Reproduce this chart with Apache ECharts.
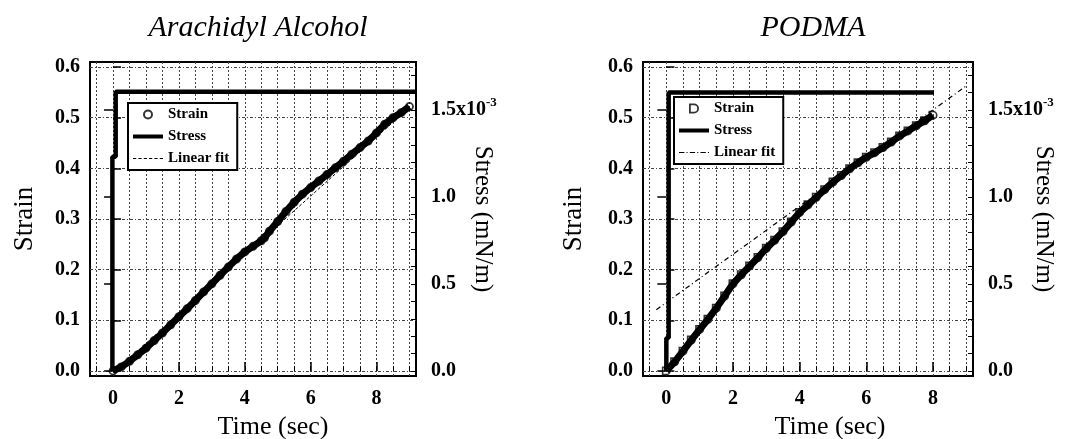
<!DOCTYPE html>
<html>
<head>
<meta charset="utf-8">
<script src="https://cdn.jsdelivr.net/npm/echarts@6/dist/echarts.min.js"></script>
<style>
html,body{margin:0;padding:0;background:#fff;}
#c{width:1069px;height:439px;}
</style>
</head>
<body>
<div id="c"></div>
<script>
// ---------- data ----------
const titleA = 'Arachidyl Alcohol';
const titleB = 'PODMA';

// Arachidyl Alcohol: strain vs time
const timeA = [0,0.25,0.5,0.75,1.0,1.25,1.5,1.75,2.0,2.25,2.5,2.75,3.0,3.25,3.5,3.75,4.0,4.25,4.5,4.6,4.75,5.0,5.25,5.5,5.75,6.0,6.25,6.5,6.75,7.0,7.25,7.5,7.75,8.0,8.25,8.5,8.75,9.0];
const strainA = [0,0.008,0.019,0.032,0.045,0.06,0.075,0.091,0.107,0.123,0.139,0.156,0.172,0.189,0.205,0.221,0.235,0.246,0.257,0.263,0.276,0.295,0.315,0.333,0.349,0.362,0.375,0.388,0.401,0.414,0.428,0.441,0.454,0.47,0.487,0.5,0.51,0.522];
// Arachidyl Alcohol: applied stress (mN/m)
const stressTimeA = [-0.02,-0.02,0.08,0.08,9.2];
const stressA = [0,1.232e-3,1.232e-3,1.605e-3,1.605e-3];
// Arachidyl Alcohol: linear fit
const fitTimeA = [0,9.0];
const fitA = [-0.004,0.52];

// PODMA: strain vs time
const timeB = [0,0.25,0.5,0.75,1.0,1.25,1.5,1.75,2.0,2.25,2.5,2.75,3.0,3.25,3.5,3.75,4.0,4.25,4.5,4.75,5.0,5.25,5.5,5.75,6.0,6.25,6.5,6.75,7.0,7.25,7.5,7.75,8.0];
const strainB = [0,0.018,0.039,0.061,0.082,0.102,0.124,0.148,0.172,0.19,0.207,0.224,0.242,0.258,0.275,0.294,0.313,0.328,0.343,0.358,0.373,0.386,0.399,0.411,0.422,0.431,0.441,0.452,0.464,0.474,0.484,0.494,0.505];
// PODMA: applied stress (mN/m)
const stressTimeB = [0,0,0.07,0.07,8.03];
const stressB = [0,0.19e-3,0.19e-3,1.60e-3,1.60e-3];
// PODMA: linear fit
const fitTimeB = [-0.3,9.0];
const fitB = [0.121,0.563];

// tick labels / tick positions
const xLabelTicks = [0,2,4,6,8];
const xGridTicks = [-0.5,0,0.5,1,1.5,2,2.5,3,3.5,4,4.5,5,5.5,6,6.5,7,7.5,8,8.5,9];
const strainTicks = [0,0.1,0.2,0.3,0.4,0.5,0.6];
const stressLabelTicks = [0,0.5e-3,1.0e-3,1.5e-3];
const stressMinorTicks = [0,0.1e-3,0.2e-3,0.3e-3,0.4e-3,0.5e-3,0.6e-3,0.7e-3,0.8e-3,0.9e-3,1.0e-3,1.1e-3,1.2e-3,1.3e-3,1.4e-3,1.5e-3,1.6e-3,1.7e-3];

// ---------- chart ----------
const FONT = 'Liberation Serif';
const xRange = [-0.7, 9.2];
const strainRange = [-0.01, 0.61];
const stressRange = [-0.0287e-3, 1.776e-3];

function zip(a, b){ return a.map((v,i)=>[v,b[i]]); }

function xAxes(gi, namePad){
  return [
    { gridIndex: gi, type:'value', position:'bottom', min:xRange[0], max:xRange[1],
      axisLine:{show:false}, splitLine:{show:false},
      axisTick:{show:true, inside:true, length:9, customValues:xLabelTicks, lineStyle:{color:'#000', width:1.5}},
      axisLabel:{customValues:xLabelTicks, margin:13, color:'#000', fontFamily:FONT, fontSize:20, fontWeight:'bold', formatter:v=>String(Math.round(v))},
      name:'Time (sec)', nameLocation:'middle', nameGap:38, nameMoveOverlap:false,
      nameTextStyle:{fontFamily:FONT, fontSize:26, color:'#000', padding:[0,0,0,namePad]} },
    { gridIndex: gi, type:'value', position:'bottom', min:xRange[0], max:xRange[1],
      axisLine:{show:false}, axisLabel:{show:false},
      axisTick:{show:true, inside:true, length:5, customValues:xGridTicks, lineStyle:{color:'#000', width:1}},
      splitLine:{show:true, lineStyle:{color:'#444', width:1, type:[2,2]}} }
  ];
}
function yAxes(gi, strainGap, stressGap){
  return [
    { gridIndex: gi, type:'value', position:'left', min:strainRange[0], max:strainRange[1],
      axisLine:{show:false},
      axisTick:{show:true, inside:true, length:8, customValues:strainTicks, lineStyle:{color:'#000', width:1.5}},
      axisLabel:{customValues:strainTicks, margin:10, color:'#000', fontFamily:FONT, fontSize:20, fontWeight:'bold', formatter:v=>v.toFixed(1)},
      splitLine:{show:true, lineStyle:{color:'#444', width:1, type:[3,2,1,2]}},
      name:'Strain', nameLocation:'middle', nameGap:strainGap, nameMoveOverlap:false,
      nameTextStyle:{fontFamily:FONT, fontSize:27, color:'#000'} },
    { gridIndex: gi, type:'value', position:'right', min:stressRange[0], max:stressRange[1],
      axisLine:{show:false}, splitLine:{show:false},
      axisTick:{show:true, inside:true, length:9, customValues:stressLabelTicks, lineStyle:{color:'#000', width:1.5}},
      axisLabel:{customValues:stressLabelTicks, margin:15, color:'#000', fontFamily:FONT, fontSize:20, fontWeight:'bold',
        formatter:v=>{ const s=(v*1000).toFixed(1); return s==='1.5' ? '{b|1.5x10}{sup|-3}' : s; },
        rich:{ b:{fontFamily:FONT, fontSize:20, fontWeight:'bold', color:'#000'},
               sup:{fontFamily:FONT, fontSize:13, fontWeight:'bold', color:'#000', padding:[0,0,14,0]} } },
      name:'Stress (mN/m)', nameLocation:'middle', nameGap:stressGap, nameRotate:-90, nameMoveOverlap:false,
      nameTextStyle:{fontFamily:FONT, fontSize:25, color:'#000'} },
    { gridIndex: gi, type:'value', position:'right', min:stressRange[0], max:stressRange[1],
      axisLine:{show:false}, splitLine:{show:false}, axisLabel:{show:false},
      axisTick:{show:true, inside:true, length:5, customValues:stressMinorTicks, lineStyle:{color:'#000', width:1}} }
  ];
}

// marker shapes (outline drawn as filled ring)
const ringShape = 'path://M5 0A5 5 0 1 1 5 10A5 5 0 1 1 5 0ZM5 2A3 3 0 1 0 5 8A3 3 0 1 0 5 2Z';
const dShape = 'path://M0 0H5A5 5 0 0 1 5 10H0ZM1.8 1.8V8.2H5A3.2 3.2 0 0 0 5 1.8Z';
// legend line icons
const thickLineIcon = 'path://M0 0H30V4H0Z';
const dashIcon = 'path://M0 0H3V1H0ZM5 0H8V1H5ZM10 0H13V1H10ZM15 0H18V1H15ZM20 0H23V1H20ZM25 0H28V1H25Z';
const dashDotIcon = 'path://M0 0H5V1H0ZM7 0H8V1H7ZM10 0H15V1H10ZM17 0H18V1H17ZM20 0H25V1H20ZM27 0H28V1H27Z';

function legendFor(left, top, strainIcon, fitIcon){
  return { left:left, top:top, orient:'vertical', itemGap:7, itemWidth:30, itemHeight:10,
    padding:[4,8,4,5], borderColor:'#000', borderWidth:2, backgroundColor:'#fff',
    textStyle:{fontFamily:FONT, fontSize:15, fontWeight:'bold', color:'#000'},
    data:[
      {name:'Strain', icon:strainIcon, itemStyle:{color:'#000', borderWidth:0}},
      {name:'Stress', icon:thickLineIcon, itemStyle:{color:'#000', borderWidth:0}},
      {name:'Linear fit', icon:fitIcon, itemStyle:{color:'#000', borderWidth:0}}
    ] };
}

const option = {
  backgroundColor:'#fff',
  animation:false,
  title:[
    { text:titleA, left:253, top:8, textAlign:'center',
      textStyle:{fontFamily:FONT, fontSize:30, fontStyle:'italic', fontWeight:'normal', color:'#000'} },
    { text:titleB, left:808, top:8, textAlign:'center',
      textStyle:{fontFamily:FONT, fontSize:30, fontStyle:'italic', fontWeight:'normal', color:'#000'} }
  ],
  legend:[ legendFor(128, 103, ringShape, dashIcon), legendFor(674, 97, dShape, dashDotIcon) ],
  grid:[
    { left:90, top:62, width:326, height:314, outerBoundsMode:'none', containLabel:false,
      show:true, borderColor:'#000', borderWidth:2, backgroundColor:'transparent' },
    { left:643, top:62, width:330, height:314, outerBoundsMode:'none', containLabel:false,
      show:true, borderColor:'#000', borderWidth:2, backgroundColor:'transparent' }
  ],
  xAxis:[...xAxes(0,40), ...xAxes(1,44)],
  yAxis:[...yAxes(0,52,54), ...yAxes(1,56,58)],
  series:[
    // --- Arachidyl Alcohol ---
    { name:'Linear fit', type:'line', xAxisIndex:0, yAxisIndex:0, data:zip(fitTimeA,fitA), showSymbol:false, symbol:'none',
      itemStyle:{color:'#000'}, lineStyle:{color:'#000', width:1, type:[3,2]}, z:2 },
    { name:'Strain band A', type:'line', xAxisIndex:0, yAxisIndex:0, data:zip(timeA,strainA), showSymbol:false, symbol:'none',
      itemStyle:{color:'#000'}, lineStyle:{color:'#000', width:7}, z:3 },
    { name:'Strain', type:'scatter', xAxisIndex:0, yAxisIndex:0, data:zip(timeA,strainA), symbol:ringShape, symbolSize:9,
      itemStyle:{color:'#000'}, z:4 },
    { name:'Stress', type:'line', xAxisIndex:0, yAxisIndex:1, data:zip(stressTimeA,stressA), showSymbol:false, symbol:'none',
      itemStyle:{color:'#000'}, lineStyle:{color:'#000', width:4.5}, z:5 },
    // --- PODMA ---
    { name:'Linear fit', type:'line', xAxisIndex:2, yAxisIndex:3, data:zip(fitTimeB,fitB), showSymbol:false, symbol:'none',
      itemStyle:{color:'#000'}, lineStyle:{color:'#000', width:1.2, type:[5,3,1,3]}, z:6 },
    { name:'Strain band B', type:'line', xAxisIndex:2, yAxisIndex:3, data:zip(timeB,strainB), showSymbol:false, symbol:'none',
      itemStyle:{color:'#000'}, lineStyle:{color:'#000', width:7}, z:3 },
    { name:'Strain', type:'scatter', xAxisIndex:2, yAxisIndex:3, data:zip(timeB,strainB), symbol:dShape, symbolSize:9,
      itemStyle:{color:'#000'}, z:4 },
    { name:'Stress', type:'line', xAxisIndex:2, yAxisIndex:4, data:zip(stressTimeB,stressB), showSymbol:false, symbol:'none',
      itemStyle:{color:'#000'}, lineStyle:{color:'#000', width:4.5}, z:5 }
  ]
};
const chart = echarts.init(document.getElementById('c'), null, {renderer:'canvas'});
chart.setOption(option);
</script>
</body>
</html>
